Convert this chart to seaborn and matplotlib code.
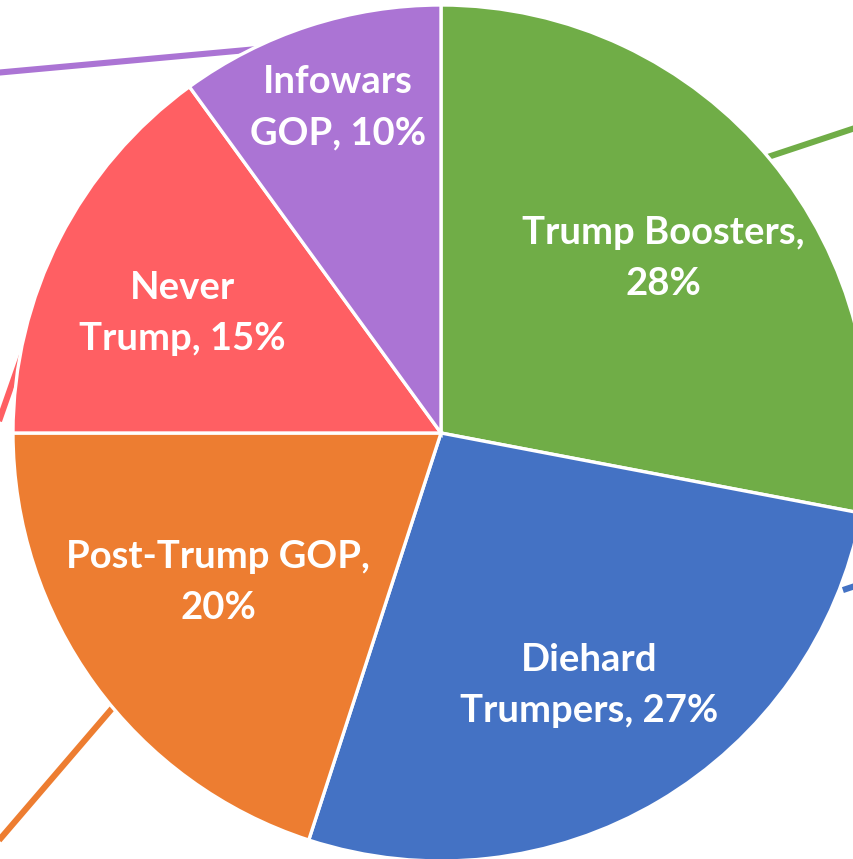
import numpy as np
import matplotlib
matplotlib.use('Agg')
import matplotlib.pyplot as plt
import seaborn as sns

segments = ['Trump Boosters', 'Diehard Trumpers', 'Post-Trump GOP', 'Never Trump', 'Infowars GOP']
shares = [28, 27, 20, 15, 10]
label_texts = ['Trump Boosters,\n28%', 'Diehard\nTrumpers, 27%', 'Post-Trump GOP,\n20%',
               'Never\nTrump, 15%', 'Infowars\nGOP, 10%']
colors = ['#70AD47', '#4472C4', '#ED7D31', '#FF5F63', '#AB74D4']

sns.set_theme(style='white')
plt.rcParams['font.family'] = ['Lato', 'DejaVu Sans']

fig = plt.figure(figsize=(8.54, 8.59), dpi=100)
ax = fig.add_axes([0, 0, 1, 1])

# leader lines to the (cropped-off) outside labels, drawn under the pie
leaders = {
    'Infowars GOP': ((-0.43, 0.897), (-1.10, 0.836)),
    'Trump Boosters': ((0.764, 0.645), (1.05, 0.74)),
    'Diehard Trumpers': ((0.939, -0.367), (1.05, -0.33)),
    'Post-Trump GOP': ((-0.762, -0.636), (-1.10, -1.03)),
    'Never Trump': ((-0.977, 0.187), (-1.06, -0.05)),
}
for name, col in zip(segments, colors):
    (x0, y0), (x1, y1) = leaders[name]
    ax.plot([x0, x1], [y0, y1], color=col, lw=4.4, solid_capstyle='butt', zorder=0)

wedges, _ = ax.pie(shares, colors=colors, startangle=90, counterclock=False,
                   radius=1.0, wedgeprops=dict(edgecolor='white', linewidth=2.4))
for w in wedges:
    w.set_zorder(1)

# label distance from centre and a small nudge (points), like Excel's placement
label_r = [0.665, 0.68, 0.63, 0.665, 0.80]
nudges = [(2, -5), (0, -1.5), (-3.5, 6.5), (-3.5, -7), (2, 0)]
for w, txt, r, nd in zip(wedges, label_texts, label_r, nudges):
    ang = np.deg2rad((w.theta1 + w.theta2) / 2)
    ax.annotate(txt, (r * np.cos(ang), r * np.sin(ang)), xytext=nd,
                textcoords='offset points', ha='center', va='center',
                color='white', fontsize=27.5, fontweight='bold', linespacing=1.62, zorder=3)

ax.set_xlim(-441 / 428, 413 / 428)
ax.set_ylim(-426 / 428, 433 / 428)
ax.set_aspect('auto')
ax.axis('off')

fig.savefig('out.png', dpi=100, facecolor='white')
